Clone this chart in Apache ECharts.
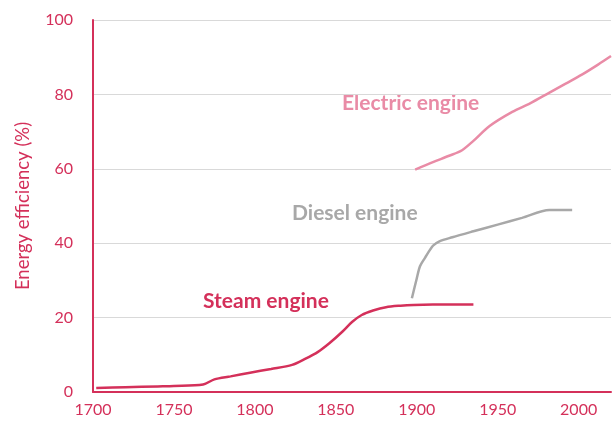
<!DOCTYPE html>
<html><head><meta charset="utf-8">
<script src="https://cdn.jsdelivr.net/npm/echarts@6/dist/echarts.min.js"></script>
<style>html,body{margin:0;padding:0;background:#fff}#c{width:614px;height:427px}</style>
</head><body><div id="c"></div>
<script>
var steamYears = [1702, 1720, 1740, 1750, 1768, 1775, 1785, 1797, 1810, 1823, 1831, 1839, 1846, 1854, 1860, 1866, 1873, 1881, 1890, 1898, 1910, 1935];
var steamVals  = [1.1, 1.3, 1.5, 1.6, 2.0, 3.4, 4.2, 5.2, 6.2, 7.3, 8.9, 10.8, 13.1, 16.2, 18.8, 20.7, 21.9, 22.8, 23.2, 23.4, 23.5, 23.5];
var dieselYears = [1897, 1900, 1902, 1905, 1910, 1914, 1922, 1935, 1950, 1965, 1982, 1996];
var dieselVals  = [25.2, 30.5, 33.8, 36.0, 39.3, 40.5, 41.6, 43.2, 45.0, 46.8, 48.9, 48.9];
var electricYears = [1899, 1910, 1920, 1928, 1935, 1945, 1959, 1970, 1982, 1992, 2002, 2012, 2020];
var electricVals  = [59.8, 61.8, 63.5, 65.0, 67.5, 71.5, 75.3, 77.6, 80.5, 82.9, 85.3, 88.0, 90.3];
var seriesNames = ['Steam engine', 'Diesel engine', 'Electric engine'];
var yTicks = [0, 20, 40, 60, 80, 100];
var xTicks = [1700, 1750, 1800, 1850, 1900, 1950, 2000];

var RED = '#d4305a', GRAY = '#a8a8a8', PINK = '#e98ba6';
function pairs(xs, ys){ return xs.map(function(x,i){ return [x, ys[i]]; }); }

var chart = echarts.init(document.getElementById('c'));
chart.setOption({
  animation: false,
  grid: { left: 93, right: 2, top: 20, bottom: 35 },
  xAxis: {
    type: 'value', min: 1700, max: 2020, interval: 50,
    axisLine: { show: true, lineStyle: { color: RED, width: 2 } },
    axisTick: { show: false },
    splitLine: { show: false },
    axisLabel: { color: RED, fontFamily: 'Lato', fontSize: 16, margin: 10,
      formatter: function(v){ return xTicks.indexOf(v) >= 0 ? String(v) : ''; } }
  },
  yAxis: {
    type: 'value', min: 0, max: 100, interval: 20,
    name: 'Energy efficiency (%)', nameLocation: 'middle', nameGap: 60,
    nameTextStyle: { color: RED, fontFamily: 'Lato', fontSize: 18.5 },
    axisLine: { show: true, lineStyle: { color: RED, width: 2 } },
    axisTick: { show: false },
    splitLine: { show: true, lineStyle: { color: '#d9d9d9', width: 1.2 } },
    axisLabel: { color: RED, fontFamily: 'Lato', fontSize: 16, margin: 20,
      formatter: function(v){ return yTicks.indexOf(v) >= 0 ? String(v) : ''; } }
  },
  series: [
    { name: seriesNames[0], type: 'line', data: pairs(steamYears, steamVals), showSymbol: false, smooth: 0.3,
      lineStyle: { color: RED, width: 2.5 } },
    { name: seriesNames[1], type: 'line', data: pairs(dieselYears, dieselVals), showSymbol: false, smooth: 0.3,
      lineStyle: { color: GRAY, width: 2.5 } },
    { name: seriesNames[2], type: 'line', data: pairs(electricYears, electricVals), showSymbol: false, smooth: 0.3,
      lineStyle: { color: PINK, width: 2.5 } }
  ],
  graphic: [
    { type: 'text', left: 342, top: 93, style: { text: seriesNames[2], fill: PINK, font: 'bold 21px Lato' } },
    { type: 'text', left: 292, top: 203, style: { text: seriesNames[1], fill: GRAY, font: 'bold 21px Lato' } },
    { type: 'text', left: 203, top: 291, style: { text: seriesNames[0], fill: RED, font: 'bold 21px Lato' } }
  ]
});
</script></body></html>
